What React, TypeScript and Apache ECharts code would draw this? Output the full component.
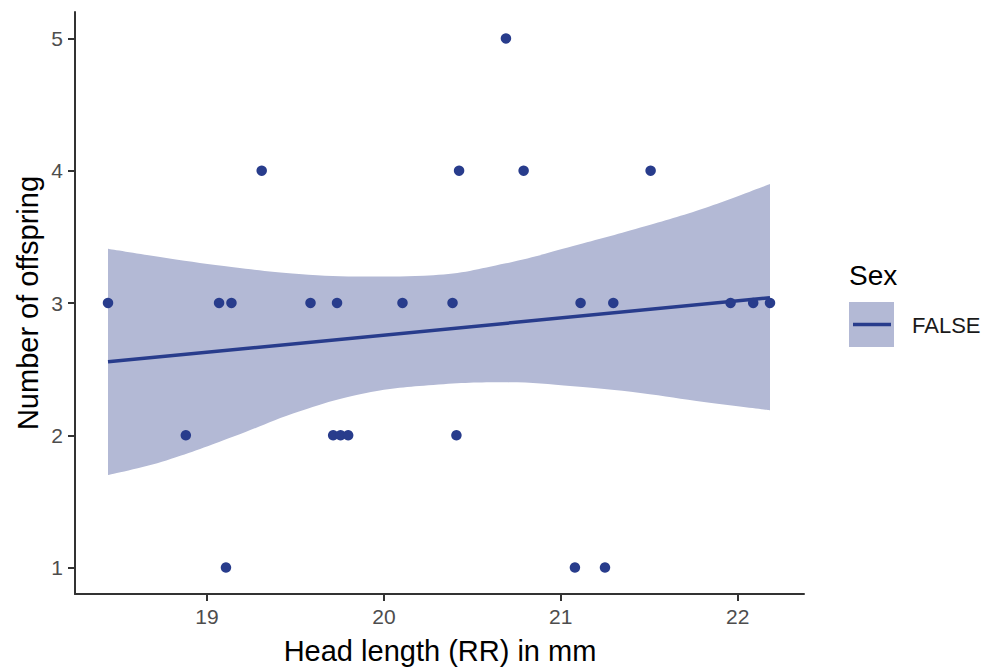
import React, { useEffect, useRef } from "react";
import * as echarts from "echarts";

const xTicks = [19, 20, 21, 22];
const yTicks = [1, 2, 3, 4, 5];

const pointX = [
  18.44, 19.068, 19.138, 19.585, 19.735, 20.105, 20.388, 21.112, 21.297, 21.96, 22.088, 22.183,
  18.88, 19.713, 19.755, 19.798, 20.41,
  19.309, 20.425, 20.79, 21.508,
  20.69,
  19.107, 21.08, 21.25,
];
const pointY = [
  3, 3, 3, 3, 3, 3, 3, 3, 3, 3, 3, 3,
  2, 2, 2, 2, 2,
  4, 4, 4, 4,
  5,
  1, 1, 1,
];

const fitX = [18.44, 22.183];
const fitY = [2.555, 3.04];

const bandX = [18.44, 18.77, 19.15, 19.52, 19.9, 20.28, 20.69, 21.07, 21.45, 21.82, 22.183];
const bandUpper = [3.41, 3.34, 3.27, 3.22, 3.2, 3.21, 3.3, 3.43, 3.57, 3.72, 3.9];
const bandLower = [1.7, 1.81, 1.99, 2.18, 2.32, 2.38, 2.4, 2.37, 2.32, 2.25, 2.19];

const xTitle = "Head length (RR) in mm";
const yTitle = "Number of offspring";
const legendTitle = "Sex";
const legendLabel = "FALSE";

const FONT = "'Liberation Sans', Arial, Helvetica, sans-serif";
const DARK = "#283c8c";
const BAND = "#b3b9d5";
const AXIS = "#333333";
const TICKTXT = "#4d4d4d";

export default function App() {
  const ref = useRef<HTMLDivElement>(null);
  useEffect(() => {
    if (!ref.current) return;
    const chart = echarts.init(ref.current, null, { renderer: "svg" });
    const points = pointX.map((x, i) => [x, pointY[i]]);
    const fit = fitX.map((x, i) => [x, fitY[i]]);
    const upper = bandX.map((x, i) => [x, bandUpper[i]]);
    const lower = bandX.map((x, i) => [x, bandLower[i]]);
    chart.setOption({
      animation: false,
      backgroundColor: "#ffffff",
      grid: { left: 75, top: 12, right: 184, bottom: 76, containLabel: false },
      xAxis: {
        type: "value",
        z: 10,
        min: 18.25342,
        max: 22.37524,
        axisLine: { show: true, onZero: false, lineStyle: { color: AXIS, width: 2 } },
        axisTick: { show: true, length: 7, customValues: xTicks, lineStyle: { color: AXIS, width: 2 } },
        axisLabel: { customValues: xTicks, color: TICKTXT, fontSize: 21, fontFamily: FONT, margin: 12 },
        splitLine: { show: false },
      },
      yAxis: {
        type: "value",
        z: 10,
        min: 0.8,
        max: 5.2,
        axisLine: { show: true, onZero: false, lineStyle: { color: AXIS, width: 2 } },
        axisTick: { show: true, length: 7, customValues: yTicks, lineStyle: { color: AXIS, width: 2 } },
        axisLabel: { customValues: yTicks, color: TICKTXT, fontSize: 21, fontFamily: FONT, margin: 12 },
        splitLine: { show: false },
      },
      series: [
        {
          type: "line",
          data: upper,
          symbol: "none",
          smooth: 0.4,
          silent: true,
          lineStyle: { width: 0, color: BAND },
          areaStyle: { color: BAND, opacity: 1, origin: "start" },
          z: 1,
        },
        {
          type: "line",
          data: lower,
          symbol: "none",
          smooth: 0.4,
          silent: true,
          lineStyle: { width: 0, color: "#ffffff" },
          areaStyle: { color: "#ffffff", opacity: 1, origin: "start" },
          z: 1,
        },
        {
          type: "line",
          data: fit,
          symbol: "none",
          lineStyle: { color: DARK, width: 3.5 },
          z: 2,
        },
        {
          type: "scatter",
          data: points,
          symbol: "circle",
          symbolSize: 10.5,
          itemStyle: { color: DARK, opacity: 1 },
          z: 3,
        },
      ],
      graphic: [
        {
          type: "text",
          x: 440,
          y: 651,
          style: { text: xTitle, fill: "#000", fontSize: 29, fontFamily: FONT, align: "center", verticalAlign: "middle" },
        },
        {
          type: "text",
          x: 28,
          y: 303,
          rotation: Math.PI / 2,
          style: { text: yTitle, fill: "#000", fontSize: 29, fontFamily: FONT, align: "center", verticalAlign: "middle" },
        },
        {
          type: "text",
          x: 849,
          y: 275,
          style: { text: legendTitle, fill: "#000", fontSize: 28, fontFamily: FONT, align: "left", verticalAlign: "middle" },
        },
        {
          type: "rect",
          shape: { x: 849, y: 302, width: 45, height: 45 },
          style: { fill: BAND },
        },
        {
          type: "line",
          shape: { x1: 853, y1: 324.5, x2: 891, y2: 324.5 },
          style: { stroke: DARK, lineWidth: 3.5 },
        },
        {
          type: "text",
          x: 912,
          y: 325,
          style: { text: legendLabel, fill: "#1a1a1a", fontSize: 22, fontFamily: FONT, align: "left", verticalAlign: "middle" },
        },
      ],
    });
    return () => chart.dispose();
  }, []);
  return (
    <div
      ref={ref}
      style={{ position: "fixed", left: 0, top: 0, width: 988, height: 670, background: "#fff" }}
    />
  );
}
